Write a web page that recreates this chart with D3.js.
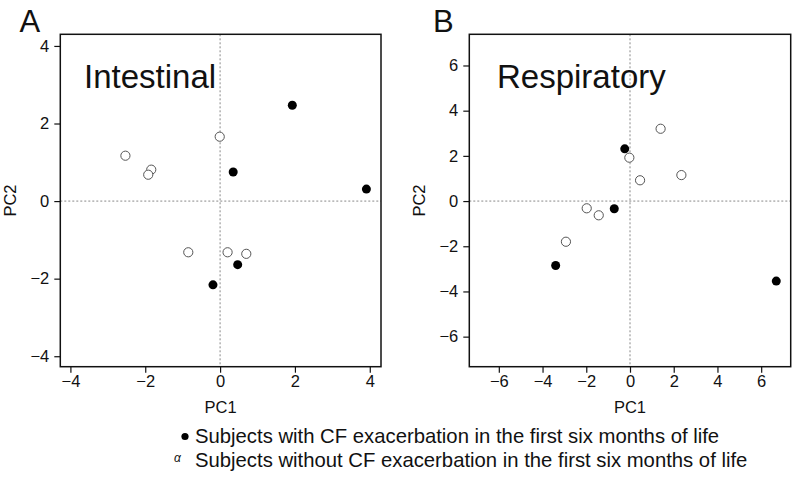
<!DOCTYPE html>
<html>
<head>
<meta charset="utf-8">
<script src="https://cdn.jsdelivr.net/npm/d3@7"></script>
<style>
  body { margin: 0; background: #fff; }
  text { font-family: "Liberation Sans", Arial, Helvetica, sans-serif; fill: #111; }
</style>
</head>
<body>
<svg id="chart" width="800" height="480"></svg>
<script>
// panel A - intestinal
const intestinalWithX = [1.93, 3.91, 0.35, 0.47, -0.19];
const intestinalWithY = [2.47, 0.31, 0.75, -1.64, -2.16];
const intestinalWithoutX = [-2.53, -1.84, -1.92, -0.01, -0.85, 0.20, 0.70];
const intestinalWithoutY = [1.17, 0.81, 0.68, 1.66, -1.32, -1.32, -1.36];
const intestinalTicks = [-4, -2, 0, 2, 4];

// panel B - respiratory
const respWithX = [-0.24, -0.72, -3.40, 6.69];
const respWithY = [2.31, -0.34, -2.85, -3.54];
const respWithoutX = [1.40, -0.03, 0.46, 2.35, -1.98, -1.43, -2.93];
const respWithoutY = [3.20, 1.92, 0.92, 1.15, -0.32, -0.63, -1.80];
const respTicks = [-6, -4, -2, 0, 2, 4, 6];

const legendLabels = [
  "Subjects with CF exacerbation in the first six months of life",
  "Subjects without CF exacerbation in the first six months of life"
];

const svg = d3.select("#chart");

function drawPanel(opt) {
  const g = svg.append("g");
  const x = d3.scaleLinear().domain(opt.xDomain).range([opt.left, opt.right]);
  const y = d3.scaleLinear().domain(opt.yDomain).range([opt.bottom, opt.top]);

  // zero reference lines
  g.append("line")
    .attr("x1", x(0)).attr("x2", x(0))
    .attr("y1", opt.top).attr("y2", opt.bottom)
    .attr("stroke", "#888").attr("stroke-width", 1).attr("stroke-dasharray", "2,2");
  g.append("line")
    .attr("x1", opt.left).attr("x2", opt.right)
    .attr("y1", y(0)).attr("y2", y(0))
    .attr("stroke", "#888").attr("stroke-width", 1).attr("stroke-dasharray", "2,2");

  // axes
  const fmt = d => String(d).replace("-", "\u2212");
  const xAxis = g.append("g")
    .attr("transform", `translate(0,${opt.bottom})`)
    .call(d3.axisBottom(x).tickValues(opt.ticks).tickSize(6).tickPadding(3).tickFormat(fmt));
  const yAxis = g.append("g")
    .attr("transform", `translate(${opt.left},0)`)
    .call(d3.axisLeft(y).tickValues(opt.ticks).tickSize(6).tickPadding(5).tickFormat(fmt));
  [xAxis, yAxis].forEach(a => {
    a.select(".domain").remove();
    a.selectAll("line").attr("stroke", "#111").attr("stroke-width", 1.2);
    a.selectAll("text").style("font-size", "16.5px").attr("fill", "#111")
      .style("font-family", "Liberation Sans, Arial, sans-serif");
  });

  // box
  g.append("rect")
    .attr("x", opt.left).attr("y", opt.top)
    .attr("width", opt.right - opt.left).attr("height", opt.bottom - opt.top)
    .attr("fill", "none").attr("stroke", "#111").attr("stroke-width", 1.5);

  // points
  const withPts = opt.withX.map((v, i) => ({x: v, y: opt.withY[i]}));
  const withoutPts = opt.withoutX.map((v, i) => ({x: v, y: opt.withoutY[i]}));
  g.selectAll(".open").data(withoutPts).enter().append("circle")
    .attr("class", "open")
    .attr("cx", d => x(d.x)).attr("cy", d => y(d.y)).attr("r", 4.6)
    .attr("fill", "#fff").attr("stroke", "#555").attr("stroke-width", 1);
  g.selectAll(".filled").data(withPts).enter().append("circle")
    .attr("class", "filled")
    .attr("cx", d => x(d.x)).attr("cy", d => y(d.y)).attr("r", 4.5)
    .attr("fill", "#000");

  // labels
  g.append("text").attr("x", opt.letterX).attr("y", 32.3)
    .style("font-size", "31px").text(opt.letter);
  g.append("text").attr("x", opt.titleX).attr("y", 87.5)
    .style("font-size", "33px").text(opt.title);
  g.append("text").attr("x", (opt.left + opt.right) / 2).attr("y", 413)
    .attr("text-anchor", "middle").style("font-size", "16.5px").text("PC1");
  g.append("text")
    .attr("transform", `translate(${opt.left - 44},${(opt.top + opt.bottom) / 2}) rotate(-90)`)
    .attr("text-anchor", "middle").style("font-size", "16.5px").text("PC2");
}

drawPanel({
  left: 60.3, right: 381, top: 34.3, bottom: 366.7,
  xDomain: [-4.27, 4.3], yDomain: [-4.27, 4.3],
  ticks: intestinalTicks,
  withX: intestinalWithX, withY: intestinalWithY,
  withoutX: intestinalWithoutX, withoutY: intestinalWithoutY,
  letter: "A", letterX: 19.5, title: "Intestinal", titleX: 84
});

drawPanel({
  left: 469.3, right: 790.7, top: 34.3, bottom: 366.7,
  xDomain: [-7.35, 7.35], yDomain: [-7.33, 7.38],
  ticks: respTicks,
  withX: respWithX, withY: respWithY,
  withoutX: respWithoutX, withoutY: respWithoutY,
  letter: "B", letterX: 433, title: "Respiratory", titleX: 497
});

// legend
const legend = svg.append("g");
legend.append("circle").attr("cx", 185).attr("cy", 436.5).attr("r", 3.6).attr("fill", "#000");
legend.append("text").attr("x", 177.5).attr("y", 462)
  .attr("text-anchor", "middle").style("font-size", "12px").style("font-style", "italic")
  .attr("fill", "#444").text("\u03b1");
legend.selectAll(".lab").data(legendLabels).enter().append("text")
  .attr("class", "lab")
  .attr("x", 195).attr("y", (d, i) => 442.5 + i * 24)
  .style("font-size", "20.3px").text(d => d);
</script>
</body>
</html>
